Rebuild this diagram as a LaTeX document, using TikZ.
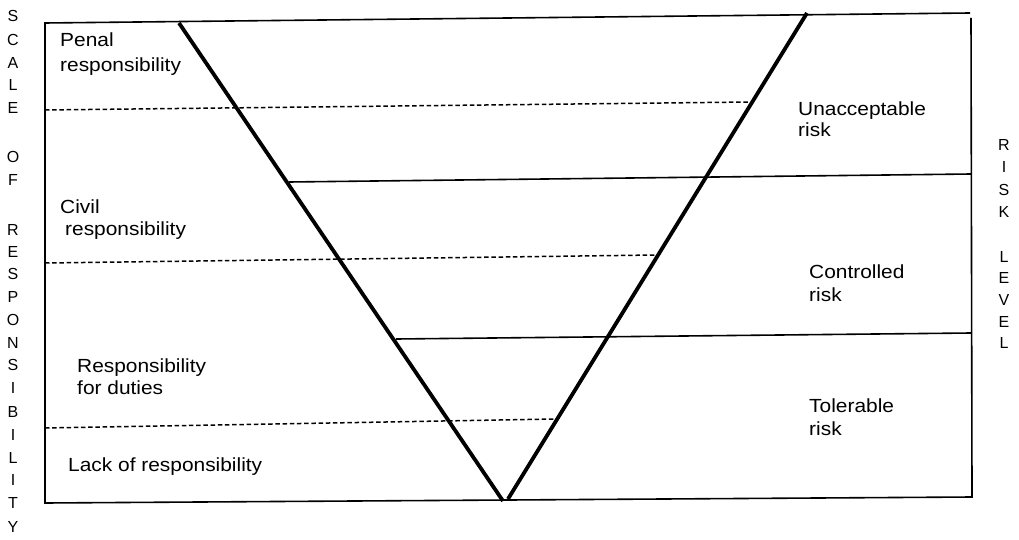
\documentclass[tikz,border=0pt]{standalone}
\usepackage{fontspec}
\setmainfont{Liberation Sans}
\newfontfamily\labfont[FakeStretch=1.1]{Liberation Sans}
\begin{document}
\begin{tikzpicture}[x=1pt,y=-1pt,
  frameline/.style={line width=1.6pt},
  vline/.style={line width=3.8pt},
  dashline/.style={line width=1.5pt, dash pattern=on 4.5pt off 2.7pt},
  lab/.style={anchor=base west, inner sep=0pt, font=\labfont\fontsize{19}{23}\selectfont},
  side/.style={anchor=base, inner sep=0pt, font=\fontsize{16}{18}\selectfont}]
\useasboundingbox (0,0) rectangle (1019,540);
% frame
\coordinate (TL) at (45,23);
\coordinate (TR) at (970,13);
\coordinate (RT) at (971,18);
\coordinate (BL) at (45,503);
\coordinate (BR) at (972,497);
\draw[frameline] (TR) -- (TL) -- (BL) -- (BR) -- (RT);
% V
\coordinate (VL) at (179,23);
\coordinate (VB1) at (503,501);
\coordinate (VB2) at (508,499);
\coordinate (VR) at (807,13);
\draw[vline] (VL) -- (VB1);
\draw[vline] (VB2) -- (VR);
% dashed lines
\coordinate (D1a) at (45,110);  \coordinate (D1b) at (750,102);
\coordinate (D2a) at (45,263);  \coordinate (D2b) at (656,255);
\coordinate (D3a) at (45,428);  \coordinate (D3b) at (556,419);
\draw[dashline] (D1a) -- (D1b);
\draw[dashline] (D2a) -- (D2b);
\draw[dashline] (D3a) -- (D3b);
% solid lines
\coordinate (S1a) at (289,182); \coordinate (S1b) at (971,174);
\coordinate (S2a) at (396,339); \coordinate (S2b) at (971,333);
\draw[frameline] (S1a) -- (S1b);
\draw[frameline] (S2a) -- (S2b);
% left labels
\node[lab] (penal1) at (60,46.7) {Penal};
\node[lab] (penal2) at (60,71.5) {responsibility};
\node[lab] (civil1) at (60,213) {Civil};
\node[lab] (civil2) at (65,235.5) {responsibility};
\node[lab] (duty1) at (77,372) {Responsibility};
\node[lab] (duty2) at (77,394) {for duties};
\node[lab] (lack) at (68,471) {Lack of responsibility};
% right labels
\node[lab] (unacc1) at (798,115.5) {Unacceptable};
\node[lab] (unacc2) at (798,137) {risk};
\node[lab] (contr1) at (809,278) {Controlled};
\node[lab] (contr2) at (809,301.5) {risk};
\node[lab] (toler1) at (809,412) {Tolerable};
\node[lab] (toler2) at (809,435) {risk};
% side texts
\foreach \c/\yy [count=\i] in {S/16,C/40,A/63,L/85,E/108,O/157,F/180,R/230,E/252,S/274,P/297,O/320,N/343,S/365,I/388,B/412,I/435,L/458,I/480,T/503,Y/527}
  \node[side] (scale\i) at (13,\yy+5.5) {\c};
\foreach \c/\yy [count=\i] in {R/145,I/167,S/190,K/212,L/257,E/278,V/300,E/322,L/343}
  \node[side] (risk\i) at (1004,\yy+5.5) {\c};
\end{tikzpicture}
\end{document}
